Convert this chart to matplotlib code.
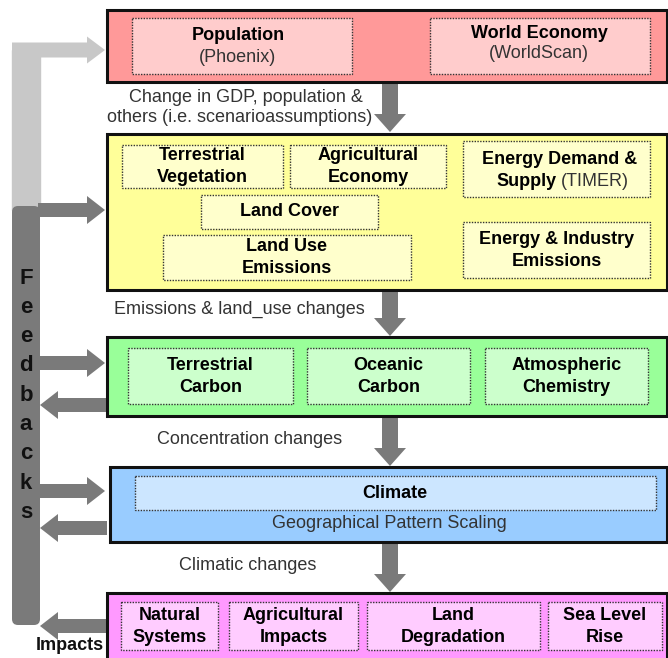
import matplotlib
matplotlib.use("Agg")
import matplotlib.pyplot as plt
from matplotlib.patches import Rectangle, FancyArrow, FancyBboxPatch

plt.rcParams['font.family'] = ['Liberation Sans', 'DejaVu Sans']

# outer model layers: (x0, y0, x1, y1, fill)
layers = [
    (107, 10, 667, 82, '#FF9999'),
    (107, 134, 667, 290, '#FFFF99'),
    (107, 337, 667, 416, '#99FF99'),
    (110, 467, 667, 542, '#99CCFF'),
    (107, 593, 667, 660, '#FF99FF'),
]

# inner modules: (x0, y0, x1, y1, fill, bold lines)
modules = [
    (132, 18, 352, 74, '#FFCCCC', ['Population']),
    (430, 18, 650, 74, '#FFCCCC', ['World Economy']),
    (122, 145, 283, 188, '#FFFFCC', ['Terrestrial', 'Vegetation']),
    (290, 145, 446, 188, '#FFFFCC', ['Agricultural', 'Economy']),
    (201, 195, 378, 229, '#FFFFCC', ['Land Cover']),
    (163, 235, 411, 280, '#FFFFCC', ['Land Use', 'Emissions']),
    (463, 141, 650, 197, '#FFFFCC', []),
    (463, 222, 650, 278, '#FFFFCC', ['Energy & Industry', 'Emissions']),
    (128, 348, 293, 404, '#CCFFCC', ['Terrestrial', 'Carbon']),
    (307, 348, 470, 404, '#CCFFCC', ['Oceanic', 'Carbon']),
    (485, 348, 648, 404, '#CCFFCC', ['Atmospheric', 'Chemistry']),
    (135, 476, 656, 510, '#CCE6FF', ['Climate']),
    (121, 602, 218, 650, '#FFCCFF', ['Natural', 'Systems']),
    (229, 602, 358, 650, '#FFCCFF', ['Agricultural', 'Impacts']),
    (367, 602, 540, 650, '#FFCCFF', ['Land', 'Degradation']),
    (548, 602, 662, 650, '#FFCCFF', ['Sea Level', 'Rise']),
]

# flow labels between layers: (x, y, text)
flow_labels = [
    (246, 97, 'Change in GDP, population &'),
    (240, 118, 'others (i.e. scenarioassumptions)'),
    (239, 309, 'Emissions & land_use changes'),
    (250, 439, 'Concentration changes'),
    (248, 566, 'Climatic changes'),
]

# down arrows between layers: (y_start, y_end)
down_arrows = [(84, 132), (292, 336), (418, 466), (544, 592)]

# feedback arrows: (y_center, direction)
feedback_arrows = [(210, 'in'), (363, 'in'), (405, 'out'), (491, 'in'), (528, 'out'), (626, 'out')]

fig = plt.figure(figsize=(6.68, 6.58), dpi=100)
ax = fig.add_axes([0, 0, 1, 1])
ax.set_xlim(0, 668)
ax.set_ylim(658, 0)
ax.axis('off')

dark = '#7A7A7A'
light = '#C8C8C8'
fs = 13

# feedback bar
ax.add_patch(Rectangle((12, 50), 28, 160, color=light, zorder=1))
ax.add_patch(FancyArrow(12, 50, 93, 0, width=15, head_width=27, head_length=18,
                        length_includes_head=True, color=light, lw=0, zorder=1))
ax.add_patch(FancyBboxPatch((16, 210), 20, 411, boxstyle='round,pad=4,rounding_size=6',
                            color=dark, lw=0, zorder=1))
for y, d in feedback_arrows:
    if d == 'in':
        ax.add_patch(FancyArrow(38, y, 67, 0, width=14, head_width=28, head_length=18,
                                length_includes_head=True, color=dark, lw=0, zorder=1))
    else:
        ax.add_patch(FancyArrow(107, y, -67, 0, width=14, head_width=28, head_length=18,
                                length_includes_head=True, color=dark, lw=0, zorder=1))

for i, ch in enumerate('Feedbacks'):
    ax.text(26, 278 + i * 29.3, ch, ha='center', va='center', fontsize=16,
            fontweight='bold', color='#111111', zorder=3)
ax.text(70, 645, 'Impacts', ha='center', va='center', fontsize=fs,
        fontweight='bold', color='#111111')

for y0, y1 in down_arrows:
    ax.add_patch(FancyArrow(390, y0, 0, y1 - y0, width=16, head_width=32, head_length=18,
                            length_includes_head=True, color=dark, lw=0, zorder=1))

for x0, y0, x1, y1, c in layers:
    ax.add_patch(Rectangle((x0, y0), x1 - x0, y1 - y0, facecolor=c,
                           edgecolor='#111111', lw=2.2, zorder=2))

for x0, y0, x1, y1, c, lines in modules:
    ax.add_patch(Rectangle((x0, y0), x1 - x0, y1 - y0, facecolor=c,
                           edgecolor='#333333', lw=1, ls=(0, (1, 1)), zorder=3))
    cx = (x0 + x1) / 2
    if len(lines) == 2:
        ax.text(cx, (y0 + y1) / 2 - 11, lines[0], ha='center', va='center',
                fontsize=fs, fontweight='bold', zorder=4)
        ax.text(cx, (y0 + y1) / 2 + 11, lines[1], ha='center', va='center',
                fontsize=fs, fontweight='bold', zorder=4)

# one-line / mixed labels
ax.text(238, 35, 'Population', ha='center', va='center', fontsize=fs, fontweight='bold', zorder=4)
ax.text(237, 57, '(Phoenix)', ha='center', va='center', fontsize=fs, color='#333333', zorder=4)
ax.text(539, 33, 'World Economy', ha='center', va='center', fontsize=fs, fontweight='bold', zorder=4)
ax.text(539, 54, '(WorldScan)', ha='center', va='center', fontsize=fs, color='#333333', zorder=4)
ax.text(289, 211, 'Land Cover', ha='center', va='center', fontsize=fs, fontweight='bold', zorder=4)
ax.text(560, 159, 'Energy Demand &', ha='center', va='center', fontsize=fs, fontweight='bold', zorder=4)
ax.text(557, 182, 'Supply', ha='right', va='center', fontsize=fs, fontweight='bold', zorder=4)
ax.text(561, 182, '(TIMER)', ha='left', va='center', fontsize=fs, color='#333333', zorder=4)
ax.text(395, 494, 'Climate', ha='center', va='center', fontsize=fs, fontweight='bold', zorder=4)
ax.text(389, 524, 'Geographical Pattern Scaling', ha='center', va='center', fontsize=fs,
        color='#333333', zorder=4)

for x, y, t in flow_labels:
    ax.text(x, y, t, ha='center', va='center', fontsize=fs, color='#333333', zorder=4)

fig.savefig('out.png', dpi=100)
